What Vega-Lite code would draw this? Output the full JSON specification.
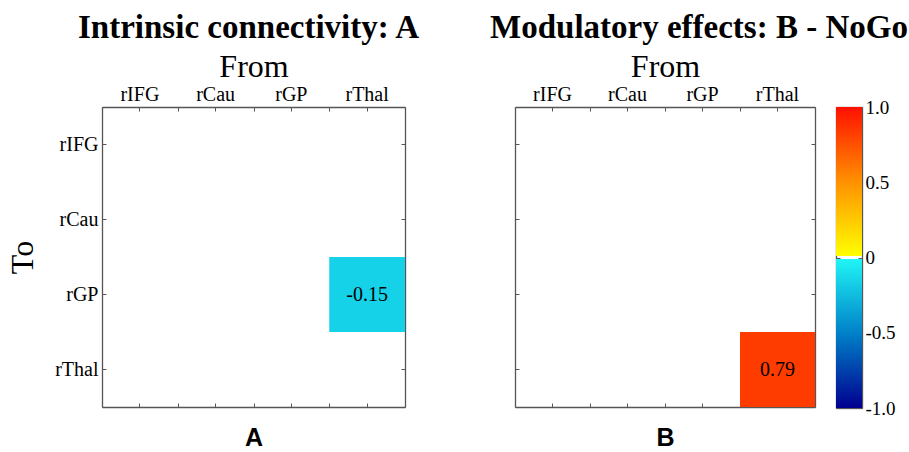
{
  "$schema": "https://vega.github.io/schema/vega-lite/v6.json",
  "background": "white",
  "padding": {"left": 6, "top": 12, "right": 0, "bottom": 0},
  "datasets": {
    "cells": [
      {"panel": "A", "from": "rThal", "to": "rGP", "value": -0.15},
      {"panel": "B", "from": "rThal", "to": "rThal", "value": 0.79}
    ],
    "colourbar": [
      {"bar": "colour", "part": "neg", "lo": -1, "hi": 0},
      {"bar": "colour", "part": "pos", "lo": 0, "hi": 1}
    ]
  },
  "spacing": 70,
  "hconcat": [
    {
      "width": 303,
      "height": 300,
      "data": {"name": "cells"},
      "transform": [{"filter": "datum.panel == 'A'"}],
      "title": {"text": "Intrinsic connectivity: A", "font": "Liberation Serif", "fontSize": 33, "fontWeight": "bold", "color": "black", "dx": -5, "offset": 5},
      "layer": [
        {
          "mark": {"type": "rect"},
          "encoding": {
            "x": {"field": "from", "type": "nominal", "scale": {"domain": ["rIFG", "rCau", "rGP", "rThal"], "paddingInner": 0, "paddingOuter": 0}, "axis": {"orient": "top", "title": "From", "labelAngle": 0, "tickBand": "center", "labelPadding": 7, "titlePadding": 1}},
            "y": {"field": "to", "type": "nominal", "scale": {"domain": ["rIFG", "rCau", "rGP", "rThal"], "paddingInner": 0, "paddingOuter": 0}, "axis": {"orient": "left", "title": "To", "tickBand": "center", "labelPadding": 8, "titlePadding": 15}},
            "color": {"field": "value", "type": "quantitative", "scale": {"domain": [-1, -0.5, -0.0001, 0.0001, 0.5, 1], "range": ["#00008F", "#0080C8", "#20F5F5", "#FFFF00", "#FF9000", "#FF0000"], "interpolate": "rgb"}, "legend": null}
          }
        },
        {
          "mark": {"type": "text", "font": "Liberation Serif", "fontSize": 20, "color": "black"},
          "encoding": {
            "x": {"field": "from", "type": "nominal", "axis": {"orient": "bottom", "title": "A", "labels": false, "tickBand": "extent", "titleFont": "Liberation Sans", "titleFontWeight": "bold", "titleFontSize": 25, "titlePadding": 18}},
            "y": {"field": "to", "type": "nominal", "axis": {"orient": "right", "title": null, "labels": false, "tickBand": "center"}},
            "text": {"field": "value", "type": "nominal"}
          }
        },
        {
          "mark": {"type": "rect", "opacity": 0},
          "encoding": {
            "x": {"field": "from", "type": "nominal", "axis": {"orient": "top", "title": null, "labels": false, "tickBand": "extent", "domain": false}},
            "y": {"field": "to", "type": "nominal", "axis": null}
          }
        },
        {
          "mark": {"type": "rect", "opacity": 0},
          "encoding": {
            "x": {"field": "from", "type": "nominal", "axis": {"orient": "bottom", "title": null, "labels": false, "tickBand": "center", "domain": false}},
            "y": {"field": "to", "type": "nominal", "axis": null}
          }
        }
      ]
    },
    {
      "bounds": "flush",
      "spacing": 21,
      "hconcat": [
        {
          "width": 300,
          "height": 300,
          "data": {"name": "cells"},
          "transform": [{"filter": "datum.panel == 'B'"}],
          "title": {"text": "Modulatory effects: B - NoGo", "font": "Liberation Serif", "fontSize": 33, "fontWeight": "bold", "color": "black", "dx": 34, "offset": 5},
          "layer": [
            {
              "mark": {"type": "rect"},
              "encoding": {
                "x": {"field": "from", "type": "nominal", "scale": {"domain": ["rIFG", "rCau", "rGP", "rThal"], "paddingInner": 0, "paddingOuter": 0}, "axis": {"orient": "top", "title": "From", "labelAngle": 0, "tickBand": "center", "labelPadding": 7, "titlePadding": 1}},
                "y": {"field": "to", "type": "nominal", "scale": {"domain": ["rIFG", "rCau", "rGP", "rThal"], "paddingInner": 0, "paddingOuter": 0}, "axis": {"orient": "left", "title": null, "labels": false, "tickBand": "center"}},
                "color": {"field": "value", "type": "quantitative", "scale": {"domain": [-1, -0.5, -0.0001, 0.0001, 0.5, 1], "range": ["#00008F", "#0080C8", "#20F5F5", "#FFFF00", "#FF9000", "#FF0000"], "interpolate": "rgb"}, "legend": null}
              }
            },
            {
              "mark": {"type": "text", "font": "Liberation Serif", "fontSize": 20, "color": "black"},
              "encoding": {
                "x": {"field": "from", "type": "nominal", "axis": {"orient": "bottom", "title": "B", "labels": false, "tickBand": "extent", "titleFont": "Liberation Sans", "titleFontWeight": "bold", "titleFontSize": 25, "titlePadding": 18}},
                "y": {"field": "to", "type": "nominal", "axis": {"orient": "right", "title": null, "labels": false, "tickBand": "center"}},
                "text": {"field": "value", "type": "nominal"}
              }
            },
            {
              "mark": {"type": "rect", "opacity": 0},
              "encoding": {
                "x": {"field": "from", "type": "nominal", "axis": {"orient": "top", "title": null, "labels": false, "tickBand": "extent", "domain": false}},
                "y": {"field": "to", "type": "nominal", "axis": null}
              }
            },
            {
              "mark": {"type": "rect", "opacity": 0},
              "encoding": {
                "x": {"field": "from", "type": "nominal", "axis": {"orient": "bottom", "title": null, "labels": false, "tickBand": "center", "domain": false}},
                "y": {"field": "to", "type": "nominal", "axis": null}
              }
            }
          ]
        },
        {
          "width": 26,
          "height": 301,
          "data": {"name": "colourbar"},
          "layer": [
            {
              "transform": [{"filter": "datum.part == 'neg'"}],
              "mark": {"type": "rect", "y2Offset": 1.5, "fill": {"gradient": "linear", "x1": 0, "y1": 1, "x2": 0, "y2": 0, "stops": [{"offset": 0, "color": "#00008F"}, {"offset": 0.5, "color": "#0080C8"}, {"offset": 1, "color": "#20F5F5"}]}},
              "encoding": {
                "x": {"field": "bar", "type": "nominal", "scale": {"paddingInner": 0, "paddingOuter": 0}, "axis": {"orient": "bottom", "title": null, "labels": false, "ticks": false}},
                "y": {"field": "lo", "type": "quantitative", "scale": {"domain": [-1, 1], "nice": false}, "axis": {"orient": "right", "title": null, "values": [-1, -0.75, -0.5, -0.25, 0, 0.25, 0.5, 0.75, 1], "labelExpr": "datum.value == 0 ? '0' : (abs(datum.value * 2) % 1 == 0 ? (datum.value < 0 ? '-' : '') + format(abs(datum.value), '.1f') : '')", "labelFont": "Liberation Serif", "labelFontSize": 19, "labelPadding": 7}},
                "y2": {"field": "hi"}
              }
            },
            {
              "transform": [{"filter": "datum.part == 'pos'"}],
              "mark": {"type": "rect", "yOffset": -1.5, "fill": {"gradient": "linear", "x1": 0, "y1": 1, "x2": 0, "y2": 0, "stops": [{"offset": 0, "color": "#FFFF00"}, {"offset": 0.5, "color": "#FF9000"}, {"offset": 1, "color": "#FF1000"}]}},
              "encoding": {
                "x": {"field": "bar", "type": "nominal", "axis": {"orient": "top", "title": null, "labels": false, "ticks": false}},
                "y": {"field": "lo", "type": "quantitative", "axis": {"orient": "left", "title": null, "labels": false, "values": [-1, -0.75, -0.5, -0.25, 0, 0.25, 0.5, 0.75, 1]}},
                "y2": {"field": "hi"}
              }
            }
          ]
        }
      ]
    }
  ],
  "config": {
    "view": {"stroke": null},
    "axis": {
      "domainColor": "#555555",
      "domainWidth": 1.3,
      "tickColor": "#555555",
      "tickWidth": 1,
      "tickSize": -4,
      "labelFont": "Liberation Serif",
      "labelFontSize": 20,
      "labelColor": "black",
      "titleFont": "Liberation Serif",
      "titleFontSize": 32,
      "titleFontWeight": "normal",
      "titleColor": "black",
      "grid": false,
      "zindex": 1
    }
  }
}
